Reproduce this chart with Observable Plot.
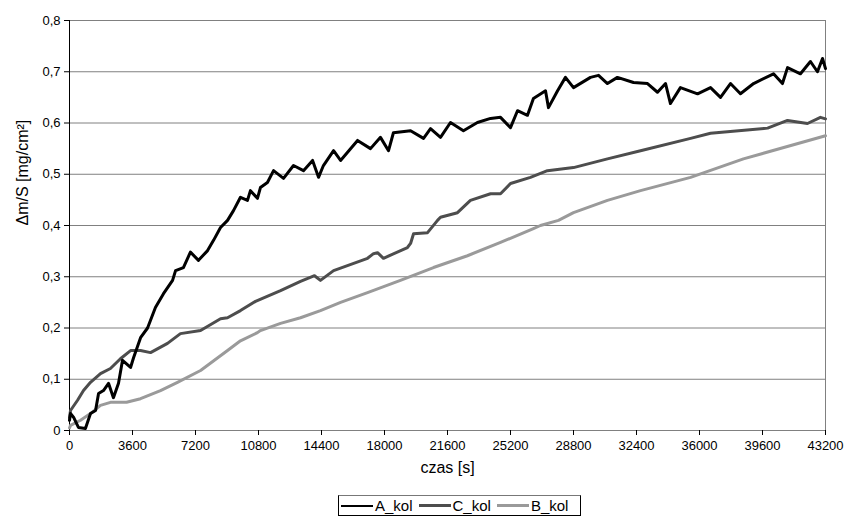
<!DOCTYPE html>
<html>
<head>
<meta charset="utf-8">
<script src="https://cdn.jsdelivr.net/npm/d3@7"></script>
<script src="https://cdn.jsdelivr.net/npm/@observablehq/plot@0.6"></script>
<style>
  html, body { margin: 0; padding: 0; background: #fff; }
  body { width: 846px; height: 525px; position: relative; font-family: "Liberation Sans", Arial, sans-serif; }
  #chart { position: absolute; left: 0; top: 0; }
  #legend { position: absolute; left: 338px; top: 495px; width: 241px; height: 19px; border: 1px solid #000; border-top-color: #777;
            display: flex; align-items: center; font-size: 15px; color: #000; box-sizing: content-box; }
  .item { display: flex; align-items: center; margin-left: 6px; }
  .item:first-child { margin-left: 2px; }
  .swatch { display: inline-block; width: 32px; height: 3px; margin-right: 2px; }
</style>
</head>
<body>
<div id="chart"></div>
<div id="legend"></div>
<script>
// time in seconds
const tA = [0,57,230,510,910,1200,1490,1660,1940,2230,2510,2800,3030,3490,3660,4060,4460,4910,5370,5890,6060,6510,6910,7370,7890,8230,8630,9030,9370,9770,10170,10340,10740,10910,11310,11660,12230,12800,13370,13890,14230,14510,15090,15490,16460,17200,17770,18230,18510,19490,20230,20630,21200,21770,22510,23310,24060,24630,25200,25600,26170,26510,27200,27370,27890,28340,28800,29770,30230,30740,31310,32230,33030,33600,34060,34340,34910,35890,36630,37200,37770,38340,39090,40230,40740,41030,41770,42340,42740,43030,43200];
const vA = [0.02,0.033,0.026,0.006,0.004,0.033,0.039,0.072,0.078,0.092,0.064,0.092,0.137,0.123,0.142,0.181,0.2,0.24,0.267,0.293,0.312,0.318,0.348,0.332,0.351,0.371,0.396,0.41,0.429,0.455,0.449,0.468,0.453,0.474,0.484,0.507,0.492,0.517,0.507,0.527,0.494,0.517,0.546,0.527,0.566,0.55,0.572,0.546,0.581,0.585,0.57,0.589,0.572,0.601,0.585,0.601,0.609,0.611,0.591,0.624,0.615,0.648,0.663,0.63,0.663,0.689,0.669,0.689,0.693,0.677,0.689,0.679,0.677,0.66,0.677,0.638,0.669,0.657,0.669,0.65,0.677,0.657,0.677,0.696,0.677,0.708,0.696,0.72,0.7,0.726,0.706];

const tC = [0,57,460,800,1200,1770,2340,2910,3490,4060,4630,5600,6340,7490,8630,9030,9770,10630,12060,13200,14000,14340,15090,17030,17370,17600,17940,19310,19490,19660,20460,21030,21200,22170,22910,24060,24630,25200,26340,27310,28800,30740,32630,35490,36630,39890,41030,42170,42910,43200];
const vC = [0.025,0.039,0.059,0.078,0.094,0.111,0.121,0.14,0.156,0.156,0.152,0.17,0.189,0.195,0.218,0.22,0.234,0.252,0.273,0.291,0.302,0.293,0.312,0.336,0.345,0.347,0.336,0.357,0.365,0.384,0.386,0.41,0.416,0.425,0.449,0.462,0.462,0.482,0.494,0.507,0.513,0.53,0.546,0.57,0.58,0.59,0.605,0.599,0.611,0.608];

const tB = [0,57,630,1200,1770,2340,3260,4060,5200,6170,7490,9030,9770,10740,10910,12060,13200,14340,15490,17030,18910,20800,22740,24630,26510,26910,27940,28800,30740,32630,35490,38510,43200];
const vB = [0.005,0.01,0.02,0.033,0.049,0.055,0.055,0.062,0.078,0.094,0.117,0.156,0.175,0.191,0.195,0.209,0.22,0.234,0.25,0.269,0.293,0.318,0.341,0.367,0.394,0.4,0.41,0.425,0.449,0.468,0.494,0.53,0.575];

const xTicks = [0,3600,7200,10800,14400,18000,21600,25200,28800,32400,36000,39600,43200];
const yTicks = [0,0.1,0.2,0.3,0.4,0.5,0.6,0.7,0.8];
const xTitle = "czas [s]";
const yTitle = "Δm/S [mg/cm²]";
const seriesNames = ["A_kol","C_kol","B_kol"];
const seriesColors = ["#000000","#4d4d4d","#9a9a9a"];

const rows = (ts, vs) => ts.map((t, i) => ({t, v: vs[i]}));
const dataA = rows(tA, vA), dataB = rows(tB, vB), dataC = rows(tC, vC);

const chart = Plot.plot({
  width: 846,
  height: 490,
  marginLeft: 69,
  marginRight: 21,
  marginTop: 20,
  marginBottom: 60,
  style: {fontFamily: '"Liberation Sans", Arial, sans-serif', color: "#000", background: "#fff"},
  x: {domain: [0, 43200]},
  y: {domain: [0, 0.8]},
  marks: [
    Plot.gridY(yTicks, {stroke: "#808080", strokeOpacity: 1, strokeWidth: 1}),
    Plot.ruleX([43200], {stroke: "#808080", strokeWidth: 1}),
    Plot.ruleX([0], {stroke: "#000", strokeWidth: 1}),
    Plot.axisX({ticks: xTicks, tickSize: 5, tickPadding: 5, tickFormat: d => String(d), stroke: "#000", label: null}),
    Plot.axisY({ticks: yTicks, tickSize: 5, tickPadding: 4, tickFormat: d => String(d).replace(".", ","), label: null}),
    Plot.text([xTitle], {frameAnchor: "bottom", dy: 42, fill: "#000"}),
    Plot.text([yTitle], {frameAnchor: "left", dx: -47, rotate: -90, fill: "#000"}),
    Plot.lineY(dataB, {x: "t", y: "v", stroke: seriesColors[2], strokeWidth: 3}),
    Plot.lineY(dataC, {x: "t", y: "v", stroke: seriesColors[1], strokeWidth: 3}),
    Plot.lineY(dataA, {x: "t", y: "v", stroke: seriesColors[0], strokeWidth: 3})
  ]
});
document.getElementById("chart").appendChild(chart);

// font sizes applied as inline styles
const svg = d3.select(chart);
svg.selectAll("text").style("font-size", "13px");
svg.selectAll("text").filter(function () { return this.textContent === xTitle || this.textContent === yTitle; })
   .style("font-size", "16px");

const legend = document.getElementById("legend");
seriesNames.forEach((name, i) => {
  const it = document.createElement("span");
  it.className = "item";
  const sw = document.createElement("span");
  sw.className = "swatch";
  sw.style.background = seriesColors[i];
  if (i === 0) sw.style.height = "2px";
  it.appendChild(sw);
  it.appendChild(document.createTextNode(name));
  legend.appendChild(it);
});
</script>
</body>
</html>
